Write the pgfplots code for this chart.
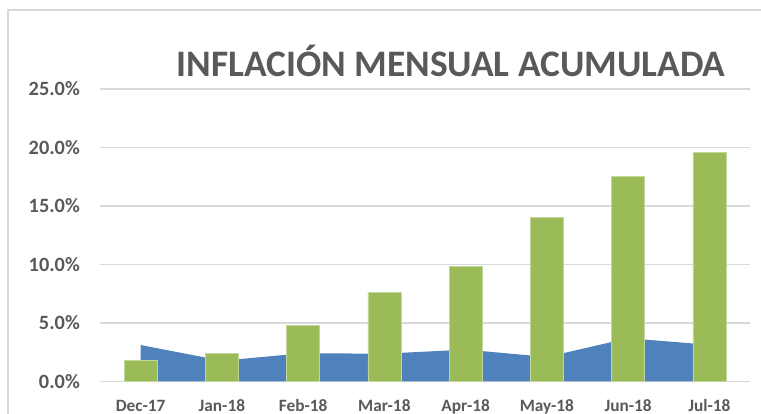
\documentclass[border=0pt]{standalone}
\usepackage{fontspec}
\setmainfont{Carlito}
\usepackage{pgfplots}
\pgfplotsset{compat=1.18}
\definecolor{exblue}{HTML}{4F81BD}
\definecolor{exgreen}{HTML}{9BBB59}
\definecolor{gridgrey}{HTML}{D9D9D9}
\definecolor{txtgrey}{HTML}{595959}
\definecolor{framegrey}{HTML}{D9D9D9}
\begin{document}
\begin{tikzpicture}[x=1pt,y=1pt]
\useasboundingbox (-100,-31.7) rectangle (661,381.3);
\draw[framegrey, line width=1.5pt] (-92,-60) -- (-92,371.3) -- (700,371.3);
\begin{axis}[
  at={(0,0)}, anchor=south west,
  scale only axis,
  width=650pt, height=292.5pt,
  xmin=-0.5, xmax=7.5,
  ymin=0, ymax=25,
  axis line style={draw=none},
  major tick length=0pt,
  xtick={0,...,7},
  xticklabels={Dec-17,Jan-18,Feb-18,Mar-18,Apr-18,May-18,Jun-18,Jul-18},
  ytick={0,5,10,15,20,25},
  yticklabels={0.0\%,5.0\%,10.0\%,15.0\%,20.0\%,25.0\%},
  ymajorgrids,
  major grid style={gridgrey, line width=1.5pt},
  yticklabel style={anchor=east, inner sep=0pt, xshift=-20pt, font=\fontsize{20.3}{22}\selectfont\bfseries, text=txtgrey},
  xticklabel style={anchor=base, inner sep=0pt, yshift=-29.8pt, font=\fontsize{17.3}{20}\selectfont\bfseries, text=txtgrey},
  clip=false,
]
\addplot[draw=none, fill=exblue] coordinates {
  (0,3.10) (1,1.76) (2,2.40) (3,2.36) (4,2.71) (5,2.08) (6,3.68) (7,3.12)
} \closedcycle;
\addplot[ybar, bar width=0.406, fill=exgreen, draw=exgreen!60!white, line width=0.6pt] coordinates {
  (0,1.77) (1,2.40) (2,4.79) (3,7.63) (4,9.85) (5,14.00) (6,17.49) (7,19.56)
};
\end{axis}
\node[anchor=base, inner sep=0pt, text=txtgrey, font=\fontsize{37.4}{40}\selectfont\bfseries] at (351,304.6) {INFLACIÓN MENSUAL ACUMULADA};
\end{tikzpicture}
\end{document}
